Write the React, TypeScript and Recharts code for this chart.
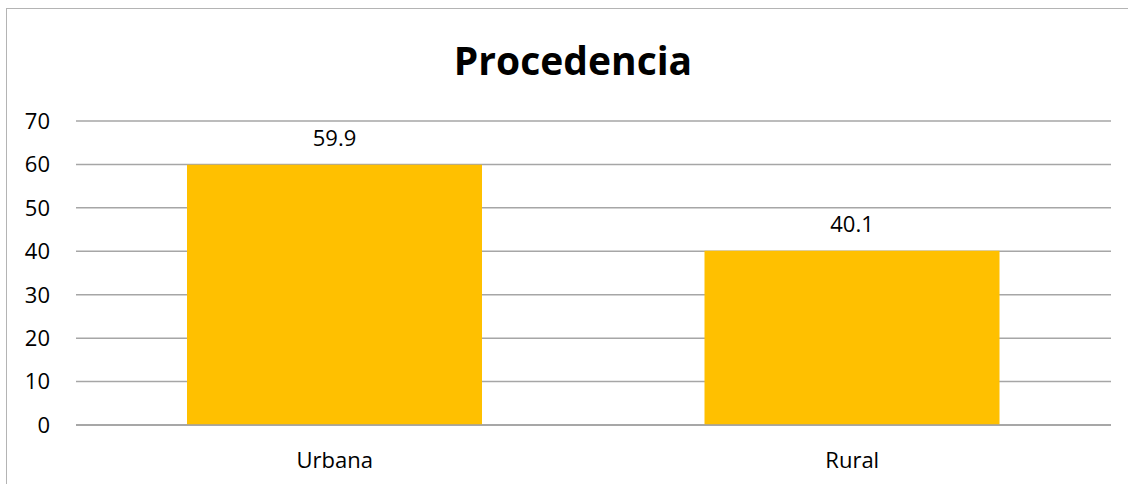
import { Bar, BarChart, CartesianGrid, LabelList, XAxis, YAxis } from "recharts";

const categories = ["Urbana", "Rural"];
const values = [59.9, 40.1];
const yTicks = [0, 10, 20, 30, 40, 50, 60, 70];

const FONT = "'Open Sans', sans-serif";
const GRID = "#a6a6a6";
const BAR = "#FFC000";

const data = categories.map((name, i) => ({ name, value: values[i] }));

export default function App() {
  return (
    <div
      style={{
        position: "fixed",
        left: 0,
        top: 0,
        width: 1128,
        height: 484,
        background: "#fff",
        overflow: "hidden",
        fontFamily: FONT,
      }}
    >
      <div
        style={{
          position: "absolute",
          left: 6,
          top: 8,
          width: 1200,
          height: 600,
          borderLeft: "1.5px solid #b4b4b4",
          borderTop: "1.5px solid #b4b4b4",
        }}
      />
      <div
        style={{
          position: "absolute",
          left: 9,
          top: 40,
          width: 1128,
          textAlign: "center",
          fontSize: 39,
          fontWeight: 700,
          lineHeight: 1,
          color: "#000",
        }}
      >
        Procedencia
      </div>
      <div style={{ position: "absolute", left: 0, top: 0 }}>
        <BarChart
          width={1128}
          height={484}
          data={data}
          margin={{ top: 121, right: 17, bottom: 19, left: 0 }}
        >
          <CartesianGrid horizontal vertical={false} stroke={GRID} strokeWidth={1.5} />
          <XAxis
            dataKey="name"
            height={40}
            tickLine={false}
            tickSize={0}
            tickMargin={27}
            axisLine={{ stroke: "#a0a0a0", strokeWidth: 1.5 }}
            tick={{ fill: "#000", fontSize: 22, fontFamily: FONT }}
          />
          <YAxis
            width={76}
            domain={[0, 70]}
            ticks={yTicks}
            interval={0}
            axisLine={false}
            tickLine={false}
            tickSize={0}
            tickMargin={26}
            tick={{ fill: "#000", fontSize: 22, fontFamily: FONT }}
          />
          <Bar dataKey="value" fill={BAR} barSize={295} isAnimationActive={false}>
            <LabelList
              dataKey="value"
              position="top"
              offset={19}
              fill="#000"
              fontSize={22}
              fontFamily={FONT}
            />
          </Bar>
        </BarChart>
      </div>
    </div>
  );
}
